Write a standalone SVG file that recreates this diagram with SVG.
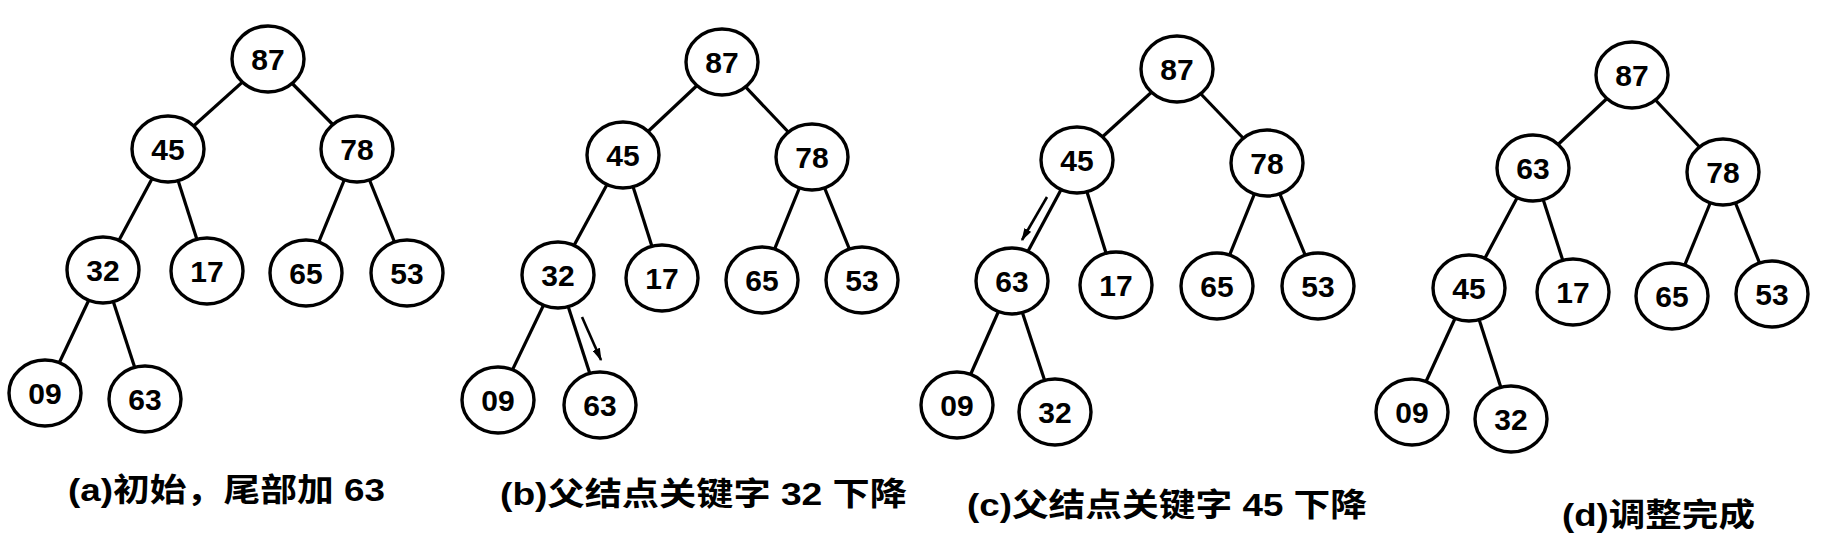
<svg xmlns="http://www.w3.org/2000/svg" width="1833" height="537" viewBox="0 0 1833 537">
<style>
.e{stroke:#000;stroke-width:3.2;fill:none}
.n ellipse{fill:#fff;stroke:#000;stroke-width:3.4}
.n text{font-family:"Liberation Sans","DejaVu Sans",sans-serif;font-size:30px;font-weight:bold;text-anchor:middle;fill:#000}
.cap{font-family:"Liberation Sans","Noto Sans CJK SC",sans-serif;font-size:32px;font-weight:bold;fill:#000}
.arr{stroke:#000;stroke-width:2.6;fill:none;marker-end:url(#ah)}
</style>
<defs>
<marker id="ah" viewBox="0 0 10 6" refX="9" refY="3" markerWidth="5" markerHeight="3" orient="auto" markerUnits="strokeWidth">
<path d="M0,0 L10,3 L0,6 Z" fill="#000"/>
</marker>
</defs>
<rect width="1833" height="537" fill="#fff"/>
<g id="connectors">
<!-- a -->
<line class="e" x1="268" y1="59" x2="168" y2="149"/>
<line class="e" x1="268" y1="59" x2="357" y2="149"/>
<line class="e" x1="168" y1="149" x2="103" y2="270"/>
<line class="e" x1="168" y1="149" x2="207" y2="271"/>
<line class="e" x1="357" y1="149" x2="306" y2="273"/>
<line class="e" x1="357" y1="149" x2="407" y2="273"/>
<line class="e" x1="103" y1="270" x2="45" y2="393"/>
<line class="e" x1="103" y1="270" x2="145" y2="399"/>
<!-- b -->
<line class="e" x1="722" y1="62" x2="623" y2="155"/>
<line class="e" x1="722" y1="62" x2="812" y2="157"/>
<line class="e" x1="623" y1="155" x2="558" y2="275"/>
<line class="e" x1="623" y1="155" x2="662" y2="278"/>
<line class="e" x1="812" y1="157" x2="762" y2="280"/>
<line class="e" x1="812" y1="157" x2="862" y2="280"/>
<line class="e" x1="558" y1="275" x2="498" y2="400"/>
<line class="e" x1="558" y1="275" x2="600" y2="405"/>
<line class="arr" x1="582" y1="317" x2="601" y2="360"/>
<!-- c -->
<line class="e" x1="1177" y1="69" x2="1077" y2="160"/>
<line class="e" x1="1177" y1="69" x2="1267" y2="163"/>
<line class="e" x1="1077" y1="160" x2="1012" y2="281"/>
<line class="e" x1="1077" y1="160" x2="1116" y2="285"/>
<line class="e" x1="1267" y1="163" x2="1217" y2="286"/>
<line class="e" x1="1267" y1="163" x2="1318" y2="286"/>
<line class="e" x1="1012" y1="281" x2="957" y2="405"/>
<line class="e" x1="1012" y1="281" x2="1055" y2="412"/>
<line class="arr" x1="1047" y1="197" x2="1022" y2="240"/>
<!-- d -->
<line class="e" x1="1632" y1="75" x2="1533" y2="168"/>
<line class="e" x1="1632" y1="75" x2="1723" y2="172"/>
<line class="e" x1="1533" y1="168" x2="1469" y2="288"/>
<line class="e" x1="1533" y1="168" x2="1573" y2="292"/>
<line class="e" x1="1723" y1="172" x2="1672" y2="296"/>
<line class="e" x1="1723" y1="172" x2="1772" y2="294"/>
<line class="e" x1="1469" y1="288" x2="1412" y2="412"/>
<line class="e" x1="1469" y1="288" x2="1511" y2="419"/>
</g>
<!-- tree a -->
<g id="a87" class="n"><ellipse cx="268" cy="59" rx="36" ry="33"/><text x="268" y="70">87</text></g>
<g id="a45" class="n"><ellipse cx="168" cy="149" rx="36" ry="33"/><text x="168" y="160">45</text></g>
<g id="a78" class="n"><ellipse cx="357" cy="149" rx="36" ry="33"/><text x="357" y="160">78</text></g>
<g id="a32" class="n"><ellipse cx="103" cy="270" rx="36" ry="33"/><text x="103" y="281">32</text></g>
<g id="a17" class="n"><ellipse cx="207" cy="271" rx="36" ry="33"/><text x="207" y="282">17</text></g>
<g id="a65" class="n"><ellipse cx="306" cy="273" rx="36" ry="33"/><text x="306" y="284">65</text></g>
<g id="a53" class="n"><ellipse cx="407" cy="273" rx="36" ry="33"/><text x="407" y="284">53</text></g>
<g id="a09" class="n"><ellipse cx="45" cy="393" rx="36" ry="33"/><text x="45" y="404">09</text></g>
<g id="a63" class="n"><ellipse cx="145" cy="399" rx="36" ry="33"/><text x="145" y="410">63</text></g>
<!-- tree b -->
<g id="b87" class="n"><ellipse cx="722" cy="62" rx="36" ry="33"/><text x="722" y="73">87</text></g>
<g id="b45" class="n"><ellipse cx="623" cy="155" rx="36" ry="33"/><text x="623" y="166">45</text></g>
<g id="b78" class="n"><ellipse cx="812" cy="157" rx="36" ry="33"/><text x="812" y="168">78</text></g>
<g id="b32" class="n"><ellipse cx="558" cy="275" rx="36" ry="33"/><text x="558" y="286">32</text></g>
<g id="b17" class="n"><ellipse cx="662" cy="278" rx="36" ry="33"/><text x="662" y="289">17</text></g>
<g id="b65" class="n"><ellipse cx="762" cy="280" rx="36" ry="33"/><text x="762" y="291">65</text></g>
<g id="b53" class="n"><ellipse cx="862" cy="280" rx="36" ry="33"/><text x="862" y="291">53</text></g>
<g id="b09" class="n"><ellipse cx="498" cy="400" rx="36" ry="33"/><text x="498" y="411">09</text></g>
<g id="b63" class="n"><ellipse cx="600" cy="405" rx="36" ry="33"/><text x="600" y="416">63</text></g>
<!-- tree c -->
<g id="c87" class="n"><ellipse cx="1177" cy="69" rx="36" ry="33"/><text x="1177" y="80">87</text></g>
<g id="c45" class="n"><ellipse cx="1077" cy="160" rx="36" ry="33"/><text x="1077" y="171">45</text></g>
<g id="c78" class="n"><ellipse cx="1267" cy="163" rx="36" ry="33"/><text x="1267" y="174">78</text></g>
<g id="c63" class="n"><ellipse cx="1012" cy="281" rx="36" ry="33"/><text x="1012" y="292">63</text></g>
<g id="c17" class="n"><ellipse cx="1116" cy="285" rx="36" ry="33"/><text x="1116" y="296">17</text></g>
<g id="c65" class="n"><ellipse cx="1217" cy="286" rx="36" ry="33"/><text x="1217" y="297">65</text></g>
<g id="c53" class="n"><ellipse cx="1318" cy="286" rx="36" ry="33"/><text x="1318" y="297">53</text></g>
<g id="c09" class="n"><ellipse cx="957" cy="405" rx="36" ry="33"/><text x="957" y="416">09</text></g>
<g id="c32" class="n"><ellipse cx="1055" cy="412" rx="36" ry="33"/><text x="1055" y="423">32</text></g>
<!-- tree d -->
<g id="d87" class="n"><ellipse cx="1632" cy="75" rx="36" ry="33"/><text x="1632" y="86">87</text></g>
<g id="d63" class="n"><ellipse cx="1533" cy="168" rx="36" ry="33"/><text x="1533" y="179">63</text></g>
<g id="d78" class="n"><ellipse cx="1723" cy="172" rx="36" ry="33"/><text x="1723" y="183">78</text></g>
<g id="d45" class="n"><ellipse cx="1469" cy="288" rx="36" ry="33"/><text x="1469" y="299">45</text></g>
<g id="d17" class="n"><ellipse cx="1573" cy="292" rx="36" ry="33"/><text x="1573" y="303">17</text></g>
<g id="d65" class="n"><ellipse cx="1672" cy="296" rx="36" ry="33"/><text x="1672" y="307">65</text></g>
<g id="d53" class="n"><ellipse cx="1772" cy="294" rx="36" ry="33"/><text x="1772" y="305">53</text></g>
<g id="d09" class="n"><ellipse cx="1412" cy="412" rx="36" ry="33"/><text x="1412" y="423">09</text></g>
<g id="d32" class="n"><ellipse cx="1511" cy="419" rx="36" ry="33"/><text x="1511" y="430">32</text></g>
<g id="captions">
<text class="cap" x="68" y="501" textLength="317" lengthAdjust="spacingAndGlyphs">(a)初始，尾部加 63</text>
<text class="cap" x="500" y="505" textLength="407" lengthAdjust="spacingAndGlyphs">(b)父结点关键字 32 下降</text>
<text class="cap" x="967" y="516" textLength="400" lengthAdjust="spacingAndGlyphs">(c)父结点关键字 45 下降</text>
<text class="cap" x="1562" y="526" textLength="193" lengthAdjust="spacingAndGlyphs">(d)调整完成</text>
</g>
</svg>
